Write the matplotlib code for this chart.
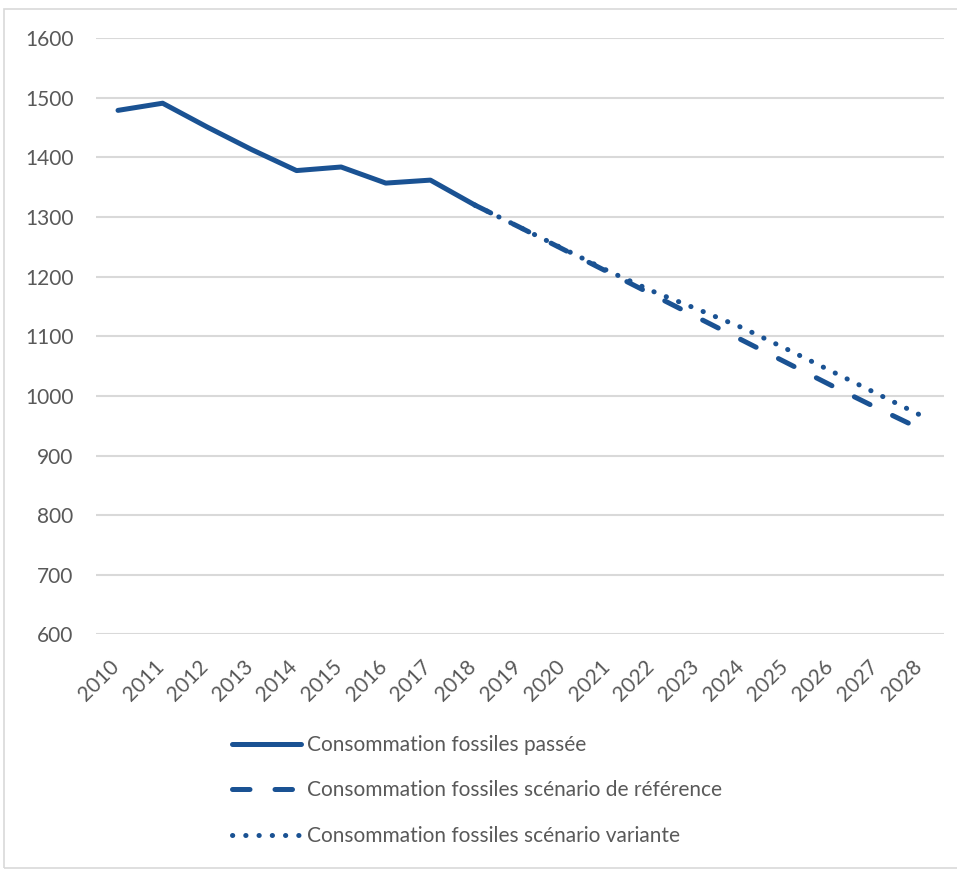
import numpy as np
import matplotlib
matplotlib.use('Agg')
import matplotlib.pyplot as plt
import matplotlib.transforms as mtrans
from matplotlib.patches import Rectangle

years = [str(y) for y in range(2010, 2029)]

# consommation fossiles passée (2010-2018)
passee = [1479, 1491, 1451, 1413, 1378, 1384, 1357, 1362, 1320]
# scénario de référence (2018-2028)
reference = [1320, 1283, 1245, 1207, 1169, 1131, 1093, 1055, 1017, 980, 944]
# scénario variante (2018-2028)
variante = [1320, 1283, 1246, 1209, 1175, 1145, 1114, 1078, 1041, 1004, 967]

labels = ["Consommation fossiles passée",
          "Consommation fossiles scénario de référence",
          "Consommation fossiles scénario variante"]

bleu = '#1a5293'
gris = '#595959'
plt.rcParams['font.family'] = ['Lato', 'DejaVu Sans']
plt.rcParams['font.size'] = 15

fig = plt.figure(figsize=(9.57, 8.69), dpi=100)
ax = fig.add_axes([0.100, 0.270, 0.886, 0.686])

x = np.arange(len(years))
lw = 3.6
ax.plot(x[:len(passee)], passee, color=bleu, lw=lw, solid_capstyle='round',
        solid_joinstyle='round', label=labels[0])
ax.plot(x[8:8 + len(reference)], reference, color=bleu, lw=lw,
        dashes=(3.5, 5.0), dash_capstyle='round', label=labels[1])
ax.plot(x[8:8 + len(variante)], variante, color=bleu, lw=lw,
        dashes=(0.05, 2.6), dash_capstyle='round', label=labels[2])

ax.set_xlim(-0.5, len(years) - 0.5)
ax.set_ylim(600, 1600)
ax.set_yticks(range(600, 1700, 100))
ax.set_xticks(x)
ax.set_xticklabels(years, rotation=45, ha='right', va='top')
ax.tick_params(axis='both', length=0, colors=gris, labelsize=15)
ax.tick_params(axis='y', pad=16)
ax.tick_params(axis='x', pad=16)
decal = mtrans.ScaledTranslation(5 / 100, 0, fig.dpi_scale_trans)
for lab in ax.get_xticklabels():
    lab.set_transform(lab.get_transform() + decal)
for s in ax.spines.values():
    s.set_visible(False)
ax.grid(axis='y', color='#d9d9d9', lw=1.5)
ax.set_axisbelow(True)

leg = fig.legend(loc='upper left', bbox_to_anchor=(232 / 957, 1 - 735 / 869),
                 frameon=False, handlelength=3.3, handletextpad=0.3,
                 labelspacing=1.22, borderpad=0, borderaxespad=0)
for t in leg.get_texts():
    t.set_color(gris)

# cadre du graphique
fig.patches.append(Rectangle((4 / 957, 1 / 869), 1.0, 1 - 10 / 869,
                             transform=fig.transFigure, fill=False,
                             edgecolor='#d9d9d9', lw=1.2))

plt.savefig('out.png', dpi=100)
